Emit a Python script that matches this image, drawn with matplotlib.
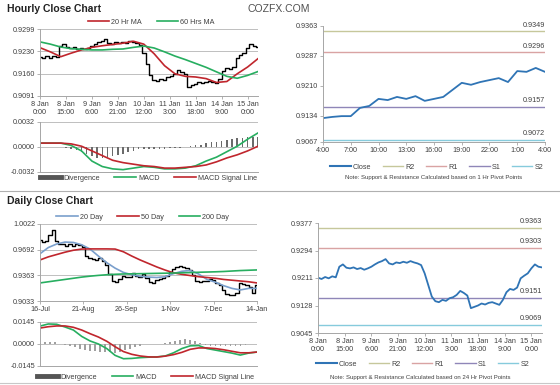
import numpy as np
import matplotlib
matplotlib.use("Agg")
import matplotlib.pyplot as plt
from matplotlib.lines import Line2D

plt.rcParams['font.family'] = ['Liberation Sans', 'DejaVu Sans']

# ---------------- data ----------------
hour_tick_labels = ["8 Jan\n0:00", "8 Jan\n15:00", "9 Jan\n6:00", "9 Jan\n21:00", "10 Jan\n12:00",
                    "11 Jan\n3:00", "11 Jan\n18:00", "14 Jan\n9:00", "15 Jan\n0:00"]
# hourly close, 2-hour steps starting 8 Jan 0:00
hourly_close = [0.9212, 0.9208, 0.9214, 0.9210, 0.9216, 0.9213, 0.9245, 0.9252, 0.9242, 0.9240,
                0.9243, 0.9238, 0.9241, 0.9236, 0.9240, 0.9245, 0.9252, 0.9258, 0.9262, 0.9268,
                0.9255, 0.9252, 0.9258, 0.9256, 0.9260, 0.9257, 0.9262, 0.9258, 0.9255, 0.9250,
                0.9225, 0.9190, 0.9155, 0.9141, 0.9138, 0.9145, 0.9142, 0.9150, 0.9153, 0.9160,
                0.9172, 0.9166, 0.9158, 0.9120, 0.9124, 0.9128, 0.9134, 0.9131, 0.9136, 0.9138,
                0.9134, 0.9130, 0.9145, 0.9168, 0.9178, 0.9175, 0.9182, 0.9210, 0.9218, 0.9225,
                0.9240, 0.9252, 0.9245, 0.9243]
# 6-hour steps
ma20_hr = [0.9241, 0.9228, 0.9213, 0.9224, 0.9234, 0.9242, 0.9247, 0.9251, 0.9255, 0.9261, 0.9252,
           0.9222, 0.9185, 0.9160, 0.9152, 0.9150, 0.9145, 0.9133, 0.9136, 0.9160, 0.9181, 0.9207]
ma60_hr = [0.9259, 0.9252, 0.9243, 0.9238, 0.9236, 0.9234, 0.9234, 0.9236, 0.9237, 0.9242, 0.9246,
           0.9240, 0.9228, 0.9215, 0.9204, 0.9192, 0.9180, 0.9166, 0.9152, 0.9146, 0.9155, 0.9167]
macd_hr = [0.0005, 0.0005, 0.0005, 0.0002, -0.0005, -0.0018, -0.0025, -0.0028, -0.0029, -0.0027, -0.0025,
           -0.0026, -0.0028, -0.0028, -0.0027, -0.0024, -0.0018, -0.0013, -0.0006, 0.0001, 0.0010, 0.0018]
signal_hr = [0.0005, 0.0005, 0.0005, 0.0004, 0.0001, -0.0005, -0.0011, -0.0017, -0.0020, -0.0022, -0.0024,
             -0.0025, -0.0027, -0.0027, -0.0026, -0.0025, -0.0023, -0.0019, -0.0014, -0.0010, -0.0005, 0.0001]
# 3-hour steps
div_hr = [0.0000, 0.0000, 0.0000, 0.0000, 0.0000, -0.0001, -0.0002, -0.0004, -0.0006, -0.0009, -0.0012,
          -0.0014, -0.0014, -0.0013, -0.0011, -0.0010, -0.0009, -0.0007, -0.0005, -0.0003, -0.0002,
          -0.0002, -0.0002, -0.0002, -0.0002, -0.0001, -0.0001, -0.0001, 0.0000, 0.0001, 0.0002,
          0.0003, 0.0005, 0.0006, 0.0007, 0.0008, 0.0009, 0.0010, 0.0011, 0.0012, 0.0013, 0.0013, 0.0013]

day_tick_labels = ["16-Jul", "21-Aug", "26-Sep", "1-Nov", "7-Dec", "14-Jan"]
# daily close, 2-day steps
daily_close = [0.9820, 0.9795, 0.9810, 0.9880, 0.9940, 0.9800, 0.9770, 0.9760, 0.9740, 0.9765,
               0.9745, 0.9760, 0.9750, 0.9725, 0.9610, 0.9590, 0.9575, 0.9560, 0.9580, 0.9545,
               0.9500, 0.9380, 0.9285, 0.9280, 0.9315, 0.9350, 0.9345, 0.9340, 0.9390, 0.9360,
               0.9345, 0.9385, 0.9330, 0.9280, 0.9265, 0.9300, 0.9320, 0.9330, 0.9360, 0.9410,
               0.9450, 0.9470, 0.9485, 0.9470, 0.9460, 0.9430, 0.9370, 0.9285, 0.9280, 0.9285,
               0.9295, 0.9320, 0.9300, 0.9260, 0.9235, 0.9170, 0.9125, 0.9110, 0.9115, 0.9130,
               0.9265, 0.9250, 0.9235, 0.9215, 0.9140, 0.9235]
# 5-day steps
ma20_day = [0.9640, 0.9720, 0.9765, 0.9790, 0.9785, 0.9755, 0.9700, 0.9610, 0.9525, 0.9455, 0.9400,
            0.9370, 0.9350, 0.9340, 0.9335, 0.9345, 0.9385, 0.9415, 0.9425, 0.9380, 0.9310, 0.9275,
            0.9230, 0.9195, 0.9175, 0.9195, 0.9195]
ma50_day = [0.9560, 0.9600, 0.9630, 0.9660, 0.9685, 0.9700, 0.9702, 0.9702, 0.9702, 0.9700, 0.9665,
            0.9610, 0.9560, 0.9515, 0.9470, 0.9430, 0.9395, 0.9375, 0.9360, 0.9345, 0.9335, 0.9325,
            0.9310, 0.9300, 0.9290, 0.9280, 0.9265]
ma200_day = [0.9265, 0.9280, 0.9295, 0.9310, 0.9325, 0.9340, 0.9352, 0.9362, 0.9370, 0.9376, 0.9380,
             0.9382, 0.9384, 0.9386, 0.9388, 0.9390, 0.9392, 0.9395, 0.9398, 0.9402, 0.9405, 0.9408,
             0.9412, 0.9418, 0.9424, 0.9428, 0.9432]
macd_day = [0.0118, 0.0132, 0.0130, 0.0112, 0.0092, 0.0050, 0.0020, 0.0000, -0.0030, -0.0075, -0.0097,
            -0.0095, -0.0090, -0.0087, -0.0085, -0.0079, -0.0058, -0.0030, -0.0012, -0.0010, -0.0030,
            -0.0040, -0.0050, -0.0060, -0.0073, -0.0060, -0.0053]
signal_day = [0.0105, 0.0114, 0.0119, 0.0119, 0.0110, 0.0092, 0.0068, 0.0046, 0.0018, -0.0018, -0.0050,
              -0.0068, -0.0079, -0.0085, -0.0086, -0.0080, -0.0070, -0.0055, -0.0035, -0.0026, -0.0026,
              -0.0030, -0.0038, -0.0048, -0.0058, -0.0058, -0.0053]
# 3-day steps
div_day = [0.0005, 0.0010, 0.0012, 0.0010, 0.0002, -0.0008, -0.0015, -0.0022, -0.0030, -0.0040, -0.0046,
           -0.0048, -0.0050, -0.0052, -0.0056, -0.0058, -0.0052, -0.0042, -0.0030, -0.0020, -0.0010,
           -0.0003, 0.0000, 0.0001, 0.0003, 0.0008, 0.0015, 0.0022, 0.0028, 0.0030, 0.0026, 0.0018,
           0.0008, -0.0004, -0.0010, -0.0012, -0.0013, -0.0014, -0.0015, -0.0016, -0.0015, -0.0008,
           -0.0003, 0.0000]

pivot_hour_labels = ["4:00", "7:00", "10:00", "13:00", "16:00", "19:00", "22:00", "1:00", "4:00"]
pivot_close_1h = [0.9128, 0.9131, 0.9133, 0.9133, 0.9154, 0.9159, 0.9177, 0.9174, 0.9182, 0.9177,
                  0.9184, 0.9172, 0.9177, 0.9182, 0.9200, 0.9218, 0.9213, 0.9220, 0.9225, 0.9230,
                  0.9220, 0.9248, 0.9246, 0.9256, 0.9246]
levels_1h = {"R2": 0.9349, "R1": 0.9296, "S1": 0.9157, "S2": 0.9072}
levels_24h = {"R2": 0.9363, "R1": 0.9303, "S1": 0.9151, "S2": 0.9069}

hr_price_ticks = [0.9091, 0.9160, 0.9230, 0.9299]
hr_macd_ticks = [-0.0032, 0.0000, 0.0032]
day_price_ticks = [0.9033, 0.9363, 0.9692, 1.0022]
day_macd_ticks = [-0.0145, 0.0000, 0.0145]
p1_ticks = [0.9067, 0.9134, 0.9210, 0.9287, 0.9363]
p24_ticks = [0.9045, 0.9128, 0.9211, 0.9294, 0.9377]

# ---------------- style ----------------
RED = '#c0262d'
GREEN = '#27ae60'
BLUE20 = '#7a9fcc'
CLOSEBLUE = '#2f74b5'
LEVC = {"R2": '#c6c79b', "R1": '#d9a3a3', "S1": '#8f86b8', "S2": '#86cbdc'}
AX = '#a6a6a6'
TXT = '#404040'
FS = 5.2

W, H = 560, 385
fig = plt.figure(figsize=(W / 100, H / 100), dpi=100)


def rect(x0, y0, x1, y1):
    return [x0 / W, 1 - y1 / H, (x1 - x0) / W, (y1 - y0) / H]


def style(ax, grid=True):
    for s in ['top', 'right']:
        ax.spines[s].set_visible(False)
    for s in ['left', 'bottom']:
        ax.spines[s].set_color(AX)
        ax.spines[s].set_linewidth(0.7)
    ax.tick_params(labelsize=FS, colors=TXT, length=2, width=0.6, pad=1.5)
    ax.tick_params(axis='both', color=AX)
    if grid:
        ax.yaxis.grid(True, color='#b4b4b4', lw=0.6)
        ax.set_axisbelow(True)


def leg(handles, labels, x, y, ncol, colsp=2.0, hl=3.0):
    fig.legend(handles, labels, loc='center', bbox_to_anchor=(x, y), ncol=ncol, frameon=False,
               fontsize=FS, handlelength=hl, columnspacing=colsp, handletextpad=0.3,
               borderpad=0, labelcolor=TXT)


# ---- hourly price ----
nh = 126
xc = np.linspace(0, nh, len(hourly_close))
x6 = np.linspace(0, nh, len(ma20_hr))
x3 = np.linspace(0, nh, len(div_hr))
hr_tick_pos = np.arange(0, 121, 15)

ax1 = fig.add_axes(rect(40, 29, 258, 96))
ax1.plot(xc, hourly_close, color='black', lw=1.0, drawstyle='steps-mid')
ax1.plot(x6, ma20_hr, color=RED, lw=1.2)
ax1.plot(x6, ma60_hr, color=GREEN, lw=1.2)
ax1.set_xlim(0, nh)
ax1.set_ylim(hr_price_ticks[0], hr_price_ticks[-1])
ax1.set_yticks(hr_price_ticks, [f"{v:.4f}" for v in hr_price_ticks])
ax1.set_xticks(hr_tick_pos, hour_tick_labels)
style(ax1)
leg([Line2D([], [], color=RED, lw=1.2), Line2D([], [], color=GREEN, lw=1.2)],
    ["20 Hr MA", "60 Hrs MA"], 0.27, 1 - 22 / H, 2)

# ---- hourly MACD ----
ax2 = fig.add_axes(rect(40, 122, 258, 172))
ax2.bar(x3, div_hr, width=0.9, color='#6b6b6b')
ax2.plot(x6, macd_hr, color=GREEN, lw=1.2)
ax2.plot(x6, signal_hr, color=RED, lw=1.2)
ax2.set_xlim(0, nh)
ax2.set_ylim(hr_macd_ticks[0], hr_macd_ticks[-1])
ax2.set_yticks(hr_macd_ticks, [f"{v:.4f}" for v in hr_macd_ticks])
ax2.set_xticks([])
style(ax2)
leg([Line2D([], [], color='#555555', lw=3.5), Line2D([], [], color=GREEN, lw=1.2),
     Line2D([], [], color=RED, lw=1.2)],
    ["Divergence", "MACD", "MACD Signal Line"], 0.265, 1 - 178 / H, 3)

# ---- daily price ----
nd = 130
xdc = np.linspace(0, nd, len(daily_close))
xd5 = np.linspace(0, nd, len(ma20_day))
xd3 = np.linspace(0, 129, len(div_day))
ax3 = fig.add_axes(rect(40, 224, 257, 301))
ax3.plot(xdc, daily_close, color='black', lw=1.0, drawstyle='steps-mid')
ax3.plot(xd5, ma20_day, color=BLUE20, lw=1.2)
ax3.plot(xd5, ma50_day, color=RED, lw=1.2)
ax3.plot(xd5, ma200_day, color=GREEN, lw=1.2)
ax3.set_xlim(0, nd)
ax3.set_ylim(day_price_ticks[0], day_price_ticks[-1])
ax3.set_yticks(day_price_ticks, [f"{v:.4f}" for v in day_price_ticks])
ax3.set_xticks(np.linspace(0, nd, len(day_tick_labels)), day_tick_labels)
style(ax3)
leg([Line2D([], [], color=BLUE20, lw=1.2), Line2D([], [], color=RED, lw=1.2),
     Line2D([], [], color=GREEN, lw=1.2)],
    ["20 Day", "50 Day", "200 Day"], 0.255, 1 - 217 / H, 3)

# ---- daily MACD ----
ax4 = fig.add_axes(rect(40, 322, 257, 366))
ax4.bar(xd3, div_day, width=0.9, color='#a0a0a0')
ax4.plot(xd5, macd_day, color=GREEN, lw=1.2)
ax4.plot(xd5, signal_day, color=RED, lw=1.2)
ax4.set_xlim(0, nd)
ax4.set_ylim(day_macd_ticks[0], day_macd_ticks[-1])
ax4.set_yticks(day_macd_ticks, [f"{v:.4f}" for v in day_macd_ticks])
ax4.set_xticks([])
style(ax4)
leg([Line2D([], [], color='#555555', lw=3.5), Line2D([], [], color=GREEN, lw=1.2),
     Line2D([], [], color=RED, lw=1.2)],
    ["Divergence", "MACD", "MACD Signal Line"], 0.26, 1 - 377 / H, 3)

# ---- pivot 1 hr ----
ax5 = fig.add_axes(rect(323, 26, 545, 142))
xp = np.arange(len(pivot_close_1h))
for k in ["R2", "R1", "S1", "S2"]:
    ax5.axhline(levels_1h[k], color=LEVC[k], lw=1.0)
    ax5.text(len(pivot_close_1h) - 1, levels_1h[k] + 0.0007, f"{levels_1h[k]:.4f}", ha='right',
             va='bottom', fontsize=FS, color=TXT)
ax5.plot(xp, pivot_close_1h, color=CLOSEBLUE, lw=1.3)
ax5.set_xlim(0, len(pivot_close_1h) - 1)
ax5.set_ylim(p1_ticks[0], p1_ticks[-1])
ax5.set_yticks(p1_ticks, [f"{v:.4f}" for v in p1_ticks])
ax5.set_xticks(np.arange(0, 25, 3), pivot_hour_labels)
style(ax5, grid=False)
lev_handles = [Line2D([], [], color=CLOSEBLUE, lw=1.5)] + [Line2D([], [], color=LEVC[k], lw=1.0)
                                                          for k in ["R2", "R1", "S1", "S2"]]
lev_labels = ["Close", "R2", "R1", "S1", "S2"]
leg(lev_handles, lev_labels, 0.78, 1 - 167 / H, 5, colsp=1.6, hl=2.8)
fig.text(0.775, 1 - 178 / H, "Note: Support & Resistance Calculated based on 1 Hr Pivot Points",
         ha='center', va='center', fontsize=4.3, color=TXT)

# ---- pivot 24 hr ----
ax6 = fig.add_axes(rect(318, 223, 542, 333))
for k in ["R2", "R1", "S1", "S2"]:
    ax6.axhline(levels_24h[k], color=LEVC[k], lw=1.0)
    ax6.text(nh, levels_24h[k] + 0.0008, f"{levels_24h[k]:.4f}", ha='right',
             va='bottom', fontsize=FS, color=TXT)
ax6.plot(xc, hourly_close, color=CLOSEBLUE, lw=1.3)
ax6.set_xlim(0, nh)
ax6.set_ylim(p24_ticks[0], p24_ticks[-1])
ax6.set_yticks(p24_ticks, [f"{v:.4f}" for v in p24_ticks])
ax6.set_xticks(hr_tick_pos, hour_tick_labels)
style(ax6, grid=False)
leg(lev_handles, lev_labels, 0.755, 1 - 364 / H, 5, colsp=1.6, hl=2.8)
fig.text(0.75, 1 - 377 / H, "Note: Support & Resistance Calculated based on 24 Hr Pivot Points",
         ha='center', va='center', fontsize=4.3, color=TXT)

# ---- titles & separators ----
fig.text(7 / W, 1 - 9 / H, "Hourly Close Chart", fontsize=7.5, fontweight='bold', color='#222222',
         ha='left', va='center')
fig.text(247 / W, 1 - 9 / H, "COZFX.COM", fontsize=7.5, color='#505050', ha='left', va='center')
fig.text(7 / W, 1 - 201 / H, "Daily Close Chart", fontsize=7.5, fontweight='bold', color='#222222',
         ha='left', va='center')
fig.add_artist(Line2D([0, 1], [1 - 191 / H, 1 - 191 / H], color='#b0b0b0', lw=0.8))
fig.add_artist(Line2D([0, 1], [1 - 383 / H, 1 - 383 / H], color='#c8c8c8', lw=0.8))

fig.savefig("out.png", dpi=100)
